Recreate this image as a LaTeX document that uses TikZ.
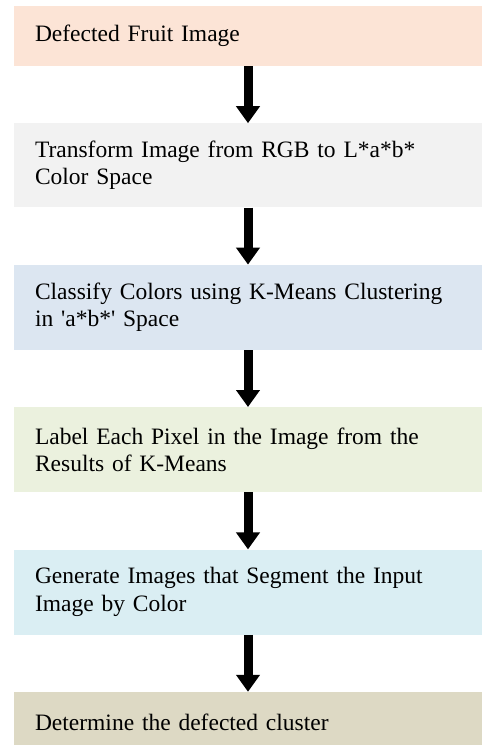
\documentclass[tikz,border=0pt]{standalone}
\usepackage{fontspec}
\setmainfont{Liberation Serif}[Ligatures=TeXOff]
\usetikzlibrary{arrows.meta,positioning}
\definecolor{peach}{HTML}{FCE4D6}
\definecolor{lgray}{HTML}{F2F2F2}
\definecolor{lsteel}{HTML}{DCE6F1}
\definecolor{lolive}{HTML}{EBF1DE}
\definecolor{laqua}{HTML}{DAEEF3}
\definecolor{ltan}{HTML}{DDD9C4}
\tikzset{
  stage/.style={fill=#1,minimum height=85pt,text width=426pt,inner xsep=21pt,inner ysep=0pt,align=left,font=\fontsize{23.5}{27.5}\selectfont},
  stage/.default={white},
  arr/.style={-{Triangle[width=23pt,length=17pt]},line width=9pt},
}
\begin{document}
\begin{tikzpicture}[node distance=57pt]
 \useasboundingbox (0,0) rectangle (483pt,-745pt);
 \node[stage=peach,minimum height=60pt] (img) at (248pt,-36pt) {Defected Fruit Image};
 \node[stage=lgray,below=of img,minimum height=84pt] (lab) {Transform Image from RGB to L*a*b*\\Color Space};
 \node[stage=lsteel,below=of lab] (km) {Classify Colors using K-Means Clustering\\in 'a*b*' Space};
 \node[stage=lolive,below=of km] (px) {Label Each Pixel in the Image from the\\Results of K-Means};
 \node[stage=laqua,below=of px] (seg) {Generate Images that Segment the Input\\Image by Color};
 \node[stage=ltan,below=of seg,minimum height=60pt] (def) {Determine the defected cluster};
 \draw[arr](img)--(lab); \draw[arr](lab)--(km); \draw[arr](km)--(px);
 \draw[arr](px)--(seg); \draw[arr](seg)--(def);
\end{tikzpicture}
\end{document}
